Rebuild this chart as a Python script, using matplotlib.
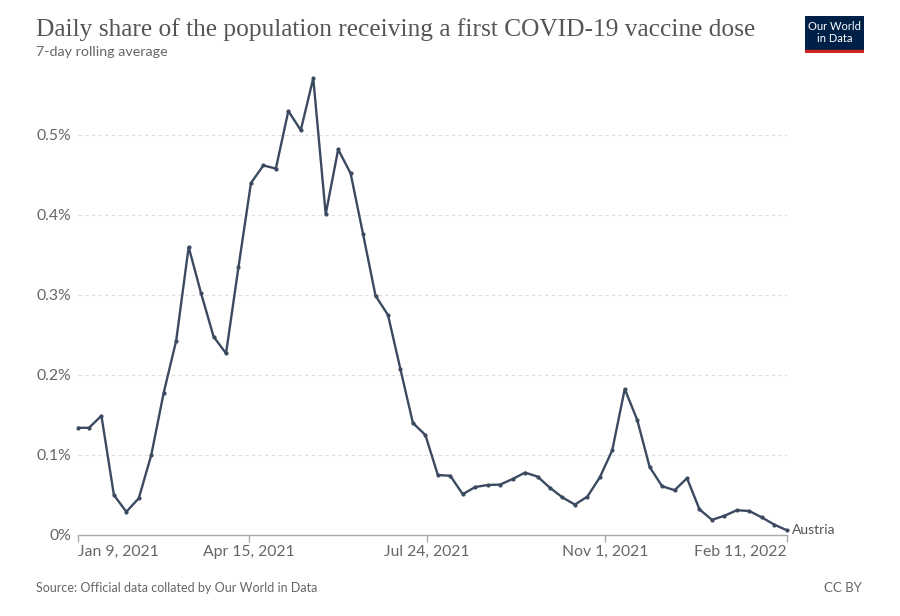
import matplotlib
matplotlib.use("Agg")
import matplotlib.pyplot as plt
import matplotlib.dates as mdates
import pandas as pd
import numpy as np

# ---- data (share of population, %) ----
start_date = "2021-01-09"
start_value = 0.134
weekly_start = "2021-01-15"
weekly_values = [
    0.134, 0.149, 0.050, 0.029, 0.046, 0.100, 0.178, 0.243, 0.360, 0.302,
    0.248, 0.227, 0.335, 0.440, 0.462, 0.458, 0.530, 0.506, 0.571, 0.401,
    0.482, 0.452, 0.376, 0.299, 0.275, 0.207, 0.140, 0.125, 0.075, 0.074,
    0.051, 0.060, 0.0625, 0.063, 0.070, 0.078, 0.073, 0.059, 0.047, 0.038,
    0.048, 0.072, 0.106, 0.1825, 0.144, 0.085, 0.061, 0.056, 0.071, 0.032,
    0.019, 0.024, 0.031, 0.030, 0.022, 0.013, 0.006,
]
country = "Austria"
tick_dates = ["2021-01-09", "2021-04-15", "2021-07-24", "2021-11-01", "2022-02-11"]
tick_labels = ["Jan 9, 2021", "Apr 15, 2021", "Jul 24, 2021", "Nov 1, 2021", "Feb 11, 2022"]
y_ticks = [0, 0.1, 0.2, 0.3, 0.4, 0.5]
y_labels = ["0%", "0.1%", "0.2%", "0.3%", "0.4%", "0.5%"]

title = "Daily share of the population receiving a first COVID-19 vaccine dose"
subtitle = "7-day rolling average"
source = "Source: Official data collated by Our World in Data"
license_txt = "CC BY"

dates = [pd.Timestamp(start_date)] + list(pd.date_range(weekly_start, periods=len(weekly_values), freq="7D"))
values = [start_value] + weekly_values

# ---- figure ----
W, H = 900, 616
fig = plt.figure(figsize=(W / 100, H / 100), dpi=100)
fig.patch.set_facecolor("white")

left_px, right_px, top_px, bottom_px = 78.3, 786.7, 75, 535
ax = fig.add_axes([left_px / W, (H - bottom_px) / H, (right_px - left_px) / W, (bottom_px - top_px) / H])
ax.set_xlim(pd.Timestamp(tick_dates[0]), pd.Timestamp(tick_dates[-1]))
ax.set_ylim(0, (bottom_px - top_px) / 800)

line_color = "#3b4a60"
ax.plot(dates, values, color=line_color, lw=1.7, marker="o", ms=2.0, zorder=3, clip_on=False)

for s in ["top", "right", "left"]:
    ax.spines[s].set_visible(False)
ax.spines["bottom"].set_color("#aaaaaa")
ax.spines["bottom"].set_linewidth(1.0)

ax.set_yticks(y_ticks)
ax.set_yticklabels(y_labels)
ax.tick_params(axis="y", length=0, pad=5, labelsize=11.3, labelcolor="#666666")
for yv in y_ticks[1:]:
    ax.axhline(yv, color="#dddddd", lw=0.8, ls=(0, (3, 3)), zorder=1)

ax.set_xticks([pd.Timestamp(d) for d in tick_dates])
ax.set_xticklabels(tick_labels)
ax.tick_params(axis="x", length=5, width=1, color="#aaaaaa", pad=2, labelsize=11.3, labelcolor="#666666")
xl = ax.get_xticklabels()
xl[0].set_horizontalalignment("left")
xl[-1].set_horizontalalignment("right")

for lab in ax.get_xticklabels() + ax.get_yticklabels():
    lab.set_fontfamily("Lato")

# end label
ax.annotate(country, xy=(dates[-1], values[-1]), xytext=(4, 0), textcoords="offset points",
            va="center", ha="left", fontsize=10, color="#555555", family="Lato", annotation_clip=False)

# titles
fig.text(36 / W, 1 - 30 / H, title, fontsize=18.3, family="Liberation Serif", color="#555555", va="center", ha="left")
fig.text(36 / W, 1 - 52 / H, subtitle, fontsize=10.3, family="Lato", color="#666666", va="center", ha="left")
fig.text(36 / W, 1 - 588 / H, source, fontsize=9.0, family="Lato", color="#666666", va="center", ha="left")
fig.text(862 / W, 1 - 588 / H, license_txt, fontsize=9.5, family="Lato", color="#666666", va="center", ha="right")

# logo
lx0, ly0, lw_, lh_ = 805, 16, 59, 37
logo = fig.add_axes([lx0 / W, (H - ly0 - lh_) / H, lw_ / W, lh_ / H])
logo.set_xlim(0, 1)
logo.set_ylim(0, 1)
logo.axis("off")
logo.add_patch(plt.Rectangle((0, 0), 1, 1, color="#002147"))
logo.add_patch(plt.Rectangle((0, 0), 1, 3 / lh_, color="#ce261e"))
logo.text(0.5, 0.72, "Our World", color="white", fontsize=8, family="Lato", ha="center", va="center")
logo.text(0.5, 0.38, "in Data", color="white", fontsize=8, family="Lato", ha="center", va="center")

fig.savefig("out.png", dpi=100, facecolor="white")
